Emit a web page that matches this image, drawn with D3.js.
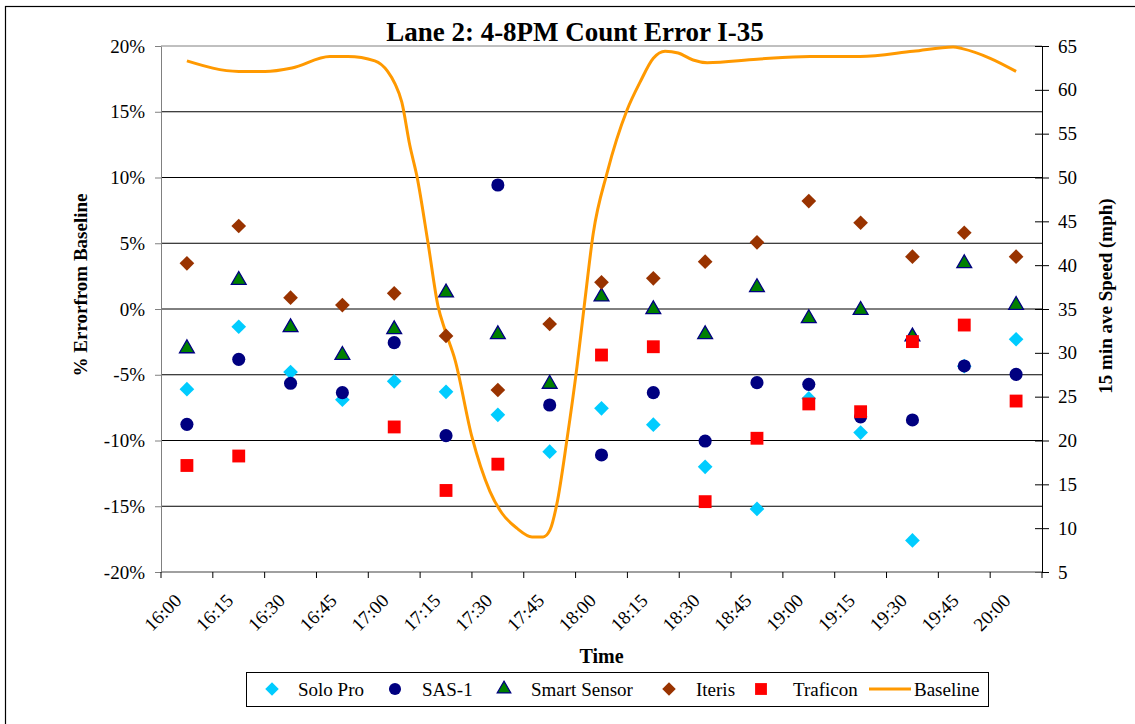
<!DOCTYPE html>
<html><head><meta charset="utf-8">
<script src="https://cdn.jsdelivr.net/npm/d3@7"></script>
<style>
html,body{margin:0;padding:0;background:#fff;}
svg{display:block;font-family:"Liberation Serif","Times New Roman",serif;}
</style></head>
<body><svg id="chart" width="1135" height="724"></svg>
<script>
const categories = ["16:00","16:15","16:30","16:45","17:00","17:15","17:30","17:45","18:00","18:15","18:30","18:45","19:00","19:15","19:30","19:45","20:00"];
const soloPro     = [-6.1, -1.35, -4.8, -6.9, -5.5, -6.3, -8.05, -10.85, -7.55, -8.8, -12.0, -15.2, -6.8, -9.4, -17.6, -4.35, -2.3];
const sas1        = [-8.77, -3.83, -5.65, -6.36, -2.56, -9.63, 9.43, -7.3, -11.1, -6.36, -10.04, -5.6, -5.73, -8.2, -8.44, -4.33, -4.97];
const smartSensor = [-3.0, 2.2, -1.4, -3.5, -1.55, 1.24, -1.93, -5.7, 0.94, -0.03, -1.93, 1.65, -0.71, -0.08, -2.1, 3.47, 0.3];
const iteris      = [3.47, 6.31, 0.86, 0.3, 1.19, -2.05, -6.16, -1.14, 2.03, 2.33, 3.6, 5.07, 8.21, 6.56, 3.98, 5.8, 3.98];
const traficon    = [-11.9, -11.18, null, null, -8.97, -13.8, -11.8, null, -3.5, -2.87, -14.65, -9.83, -7.22, -7.81, -2.48, -1.22, -7.0];
// Baseline speed (mph); minutes after 16:00
const baselineMinutes = [0, 15, 22.6, 30.4, 41.4, 46.6, 54.4, 58.1, 60.2, 62.2, 64.5, 66.6, 69.8, 72.7, 74.7, 77.6, 82.5, 87.7, 91.2, 95.5, 99.9, 103.1, 105.1, 107.1, 110.0, 112.9, 115.2, 117.6, 121.6, 127.4, 131.2, 135.0, 138.4, 142.2, 146.5, 150.6, 165.0, 180.4, 194.8, 210.2, 221.8, 224.4, 232.5, 240];
const baselineSpeed   = [63.3, 62.1, 62.1, 62.5, 63.8, 63.8, 63.3, 62.1, 60.7, 58.6, 53.7, 50.1, 42.5, 35.3, 32.6, 29.2, 20.4, 14.2, 11.7, 10.0, 9.0, 9.0, 9.8, 12.8, 20.1, 28.4, 36.0, 43.6, 50.5, 57.7, 60.9, 63.6, 64.4, 64.2, 63.4, 63.1, 63.5, 63.8, 63.8, 64.4, 64.9, 64.7, 63.6, 62.1];
const leftTicks  = [-20, -15, -10, -5, 0, 5, 10, 15, 20];
const rightTicks = [5, 10, 15, 20, 25, 30, 35, 40, 45, 50, 55, 60, 65];

const svg = d3.select("#chart");
const L = 161, R = 1042, T = 46, B = 572;

const x = d3.scaleBand().domain(categories).range([L, R]).padding(0);
const cx = c => x(c) + x.bandwidth() / 2;
const yL = d3.scaleLinear().domain([-20, 20]).range([B, T]);
const yR = d3.scaleLinear().domain([5, 65]).range([B, T]);
const xt = d3.scaleLinear().domain([0, 240]).range([cx(categories[0]), cx(categories[categories.length - 1])]);

// outer border
svg.append("rect").attr("x", 5.5).attr("y", 6.5).attr("width", 1300).attr("height", 900)
  .attr("fill", "none").attr("stroke", "#000").attr("stroke-width", 1.2);

// gridlines
svg.append("g").selectAll("line").data(leftTicks.filter(d => d > -20 && d < 20)).join("line")
  .attr("x1", L).attr("x2", R).attr("y1", d => yL(d)).attr("y2", d => yL(d))
  .attr("stroke", "#000").attr("stroke-width", 1);
svg.append("line").attr("x1", L).attr("x2", R).attr("y1", T).attr("y2", T).attr("stroke", "#808080");

// left axis
const gL = svg.append("g").attr("transform", `translate(${L},0)`)
  .call(d3.axisLeft(yL).tickValues(leftTicks).tickSize(6).tickSizeOuter(0).tickPadding(10).tickFormat(d => d + "%"));
gL.select(".domain").attr("stroke", "#808080");
gL.selectAll(".tick line").attr("stroke", "#808080");
gL.selectAll("text").attr("font-size", 19).attr("font-family", "Liberation Serif").attr("fill", "#000");

// right axis
const gR = svg.append("g").attr("transform", `translate(${R},0)`)
  .call(d3.axisRight(yR).tickValues(rightTicks).tickSize(7).tickSizeOuter(0).tickPadding(9));
gR.select(".domain").attr("stroke", "#000");
gR.selectAll(".tick line").attr("x1", -7).attr("stroke", "#000");
gR.selectAll("text").attr("font-size", 19).attr("font-family", "Liberation Serif").attr("fill", "#000");

// bottom axis
svg.append("line").attr("x1", L).attr("x2", R).attr("y1", B).attr("y2", B).attr("stroke", "#808080").attr("stroke-width", 1.5);
const bounds = categories.map(c => x(c)).concat([R]);
svg.append("g").selectAll("line").data(bounds).join("line")
  .attr("x1", d => d).attr("x2", d => d).attr("y1", B).attr("y2", B + 6).attr("stroke", "#000");
svg.append("g").selectAll("text").data(categories).join("text")
  .attr("transform", d => `translate(${cx(d) - 9},${B + 25}) rotate(-45)`)
  .attr("text-anchor", "end").attr("dy", "0.35em")
  .attr("font-size", 19).text(d => d);

// baseline line
const line = d3.line().x(d => xt(d[0])).y(d => yR(d[1])).curve(d3.curveMonotoneX);
svg.append("path").datum(baselineMinutes.map((m, i) => [m, baselineSpeed[i]]))
  .attr("d", line).attr("fill", "none").attr("stroke", "#FF9900").attr("stroke-width", 3);

// markers
const sym = (type, size) => d3.symbol().type(type).size(size)();
const series = [
  {name: "Solo Pro", values: soloPro, type: d3.symbolSquare, size: 108, fill: "#00CCFF", stroke: "none", rot: 45},
  {name: "SAS-1", values: sas1, type: d3.symbolCircle, size: 135, fill: "#000080", stroke: "none", rot: 0},
  {name: "Smart Sensor", values: smartSensor, type: d3.symbolTriangle, size: 95, fill: "#008000", stroke: "#000080", rot: 0},
  {name: "Iteris", values: iteris, type: d3.symbolSquare, size: 108, fill: "#993300", stroke: "none", rot: 45},
  {name: "Traficon", values: traficon, type: d3.symbolSquare, size: 165, fill: "#FF0000", stroke: "none", rot: 0}
];
series.forEach(s => {
  const data = categories.map((c, i) => [c, s.values[i]]).filter(d => d[1] !== null);
  svg.append("g").selectAll("path").data(data).join("path")
    .attr("d", sym(s.type, s.size))
    .attr("transform", d => `translate(${cx(d[0])},${yL(d[1])}) rotate(${s.rot})`)
    .attr("fill", s.fill).attr("stroke", s.stroke).attr("stroke-width", 1.3);
});

// titles
svg.append("text").attr("x", 575).attr("y", 41).attr("text-anchor", "middle")
  .attr("font-size", 27).attr("font-weight", "bold").text("Lane 2: 4-8PM Count Error I-35");
svg.append("text").attr("x", (L + R) / 2).attr("y", 663).attr("text-anchor", "middle")
  .attr("font-size", 20).attr("font-weight", "bold").text("Time");
svg.append("text").attr("transform", "translate(87,285) rotate(-90)").attr("text-anchor", "middle")
  .attr("font-size", 19).attr("font-weight", "bold").text("% Errorfrom Baseline");
svg.append("text").attr("transform", "translate(1112,296) rotate(-90)").attr("text-anchor", "middle")
  .attr("font-size", 19).attr("font-weight", "bold").text("15 min ave Speed (mph)");

// legend
const lg = svg.append("g");
lg.append("rect").attr("x", 246.5).attr("y", 672.5).attr("width", 742).attr("height", 34)
  .attr("fill", "#fff").attr("stroke", "#000").attr("stroke-width", 1);
const legendItems = [
  {s: series[0], mx: 272, tx: 298},
  {s: series[1], mx: 395, tx: 422},
  {s: series[2], mx: 504, tx: 531},
  {s: series[3], mx: 669, tx: 696},
  {s: series[4], mx: 761, tx: 793}
];
const ly = 689;
legendItems.forEach(it => {
  lg.append("path").attr("d", sym(it.s.type, it.s.size * 0.85))
    .attr("transform", `translate(${it.mx},${ly}) rotate(${it.s.rot})`)
    .attr("fill", it.s.fill).attr("stroke", it.s.stroke).attr("stroke-width", 1.2);
  lg.append("text").attr("x", it.tx).attr("y", ly).attr("dy", "0.35em").attr("font-size", 19).text(it.s.name);
});
lg.append("line").attr("x1", 869).attr("x2", 911).attr("y1", ly).attr("y2", ly).attr("stroke", "#FF9900").attr("stroke-width", 3);
lg.append("text").attr("x", 914).attr("y", ly).attr("dy", "0.35em").attr("font-size", 19).text("Baseline");
</script></body></html>
